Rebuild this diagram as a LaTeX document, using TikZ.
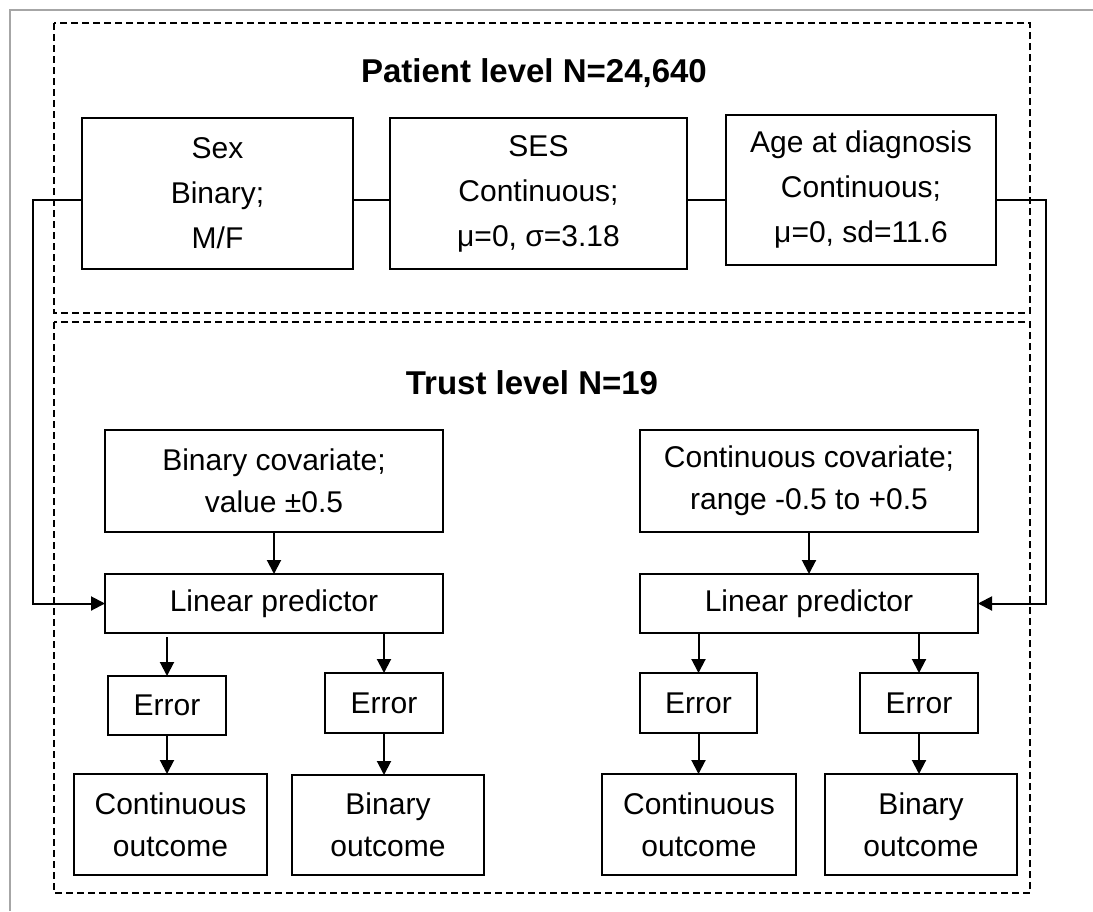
\documentclass[tikz,border=0pt]{standalone}
\usepackage{fontspec}
\setmainfont{Liberation Sans}
\usetikzlibrary{arrows.meta}
\begin{document}
\begin{tikzpicture}[x=1pt,y=-1pt,
  box/.style={draw, line width=1.3pt, inner sep=0pt, outer sep=0pt, align=center,
    font=\fontsize{30}{45}\selectfont},
  twoline/.style={box, font=\fontsize{30}{42}\selectfont},
  title/.style={inner sep=0pt, font=\fontsize{33}{40}\selectfont\bfseries},
  level/.style={dash pattern=on 7pt off 4pt, line width=1.2pt},
  link/.style={line width=1.2pt},
  flow/.style={line width=2pt, -{Triangle[length=14pt,width=14pt]}}]
\useasboundingbox (0,0) rectangle (1093,911);
% frame
\draw[gray!70, line width=1.5pt] (10,911) -- (10,10) -- (1093,10);

% level regions
\draw[level] (54,23) rectangle (1030,313);
\draw[level] (54,322) rectangle (1030,893);
\node[title] (ptitle) at (534,73) {Patient level N=24,640};
\node[title] (ttitle) at (532,383) {Trust level N=19};

% patient level variables
\node[box, minimum width=271pt, minimum height=151pt] (sex) at (217.5,193.5) {Sex\\Binary;\\M/F};
\node[box, minimum width=297pt, minimum height=151pt] (ses) at (538.5,193.5) {SES\\Continuous;\\μ=0, σ=3.18};
\node[box, minimum width=270pt, minimum height=150pt] (age) at (861,190) {Age at diagnosis\\Continuous;\\μ=0, sd=11.6};

% trust level covariates and predictors
\node[twoline, minimum width=338pt, minimum height=102pt] (bcov) at (274,481) {Binary covariate;\\value ±0.5};
\node[twoline, minimum width=338pt, minimum height=102pt] (ccov) at (809,481) {Continuous covariate;\\range -0.5 to +0.5};
\node[box, minimum width=338pt, minimum height=59pt] (lp1) at (274,603.5) {Linear predictor};
\node[box, minimum width=338pt, minimum height=59pt] (lp2) at (809,603.5) {Linear predictor};

% error terms
\node[box, minimum width=118pt, minimum height=59pt] (err1) at (167,705.5) {Error};
\node[box, minimum width=118pt, minimum height=60pt] (err2) at (384,703) {Error};
\node[box, minimum width=117pt, minimum height=60pt] (err3) at (698.5,703) {Error};
\node[box, minimum width=118pt, minimum height=60pt] (err4) at (919,703) {Error};

% outcomes
\node[twoline, minimum width=193pt, minimum height=101pt] (cont1) at (170.5,824.5) {Continuous\\outcome};
\node[twoline, minimum width=192pt, minimum height=100pt] (bin1) at (388,825) {Binary\\outcome};
\node[twoline, minimum width=194pt, minimum height=101pt] (cont2) at (699,824.5) {Continuous\\outcome};
\node[twoline, minimum width=192pt, minimum height=101pt] (bin2) at (921,824.5) {Binary\\outcome};

% links between patient level variables
\coordinate (lbus) at (33,200);
\coordinate (rbus) at (1046,200);
\draw[link] (sex.east |- lbus) -- (ses.west |- lbus);
\draw[link] (ses.east |- lbus) -- (age.west |- lbus);

% patient variables feed both linear predictors
\draw[flow] (sex.west |- lbus) -- (lbus) |- (lp1.west);
\draw[flow] (age.east |- rbus) -- (rbus) |- (lp2.east);

% covariates to predictors
\draw[flow] (bcov.south) -- (lp1.north);
\draw[flow] (ccov.south) -- (lp2.north);

% predictors to errors
\draw[flow, shorten <=4pt] (lp1.south -| err1) -- (err1.north);
\draw[flow] (lp1.south -| err2) -- (err2.north);
\draw[flow] (lp2.south -| err3) -- (err3.north);
\draw[flow] (lp2.south -| err4) -- (err4.north);

% errors to outcomes
\draw[flow] (err1.south) -- (err1.south |- cont1.north);
\draw[flow] (err2.south) -- (err2.south |- bin1.north);
\draw[flow] (err3.south) -- (err3.south |- cont2.north);
\draw[flow] (err4.south) -- (err4.south |- bin2.north);
\end{tikzpicture}
\end{document}
